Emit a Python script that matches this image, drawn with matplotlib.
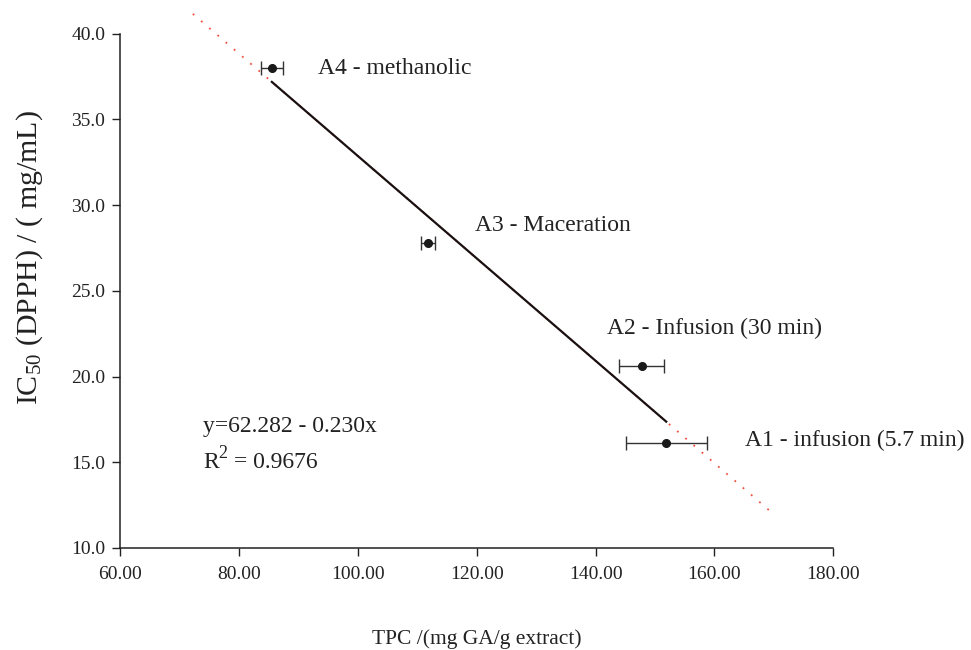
import numpy as np
import matplotlib.pyplot as plt

plt.rcParams['font.family'] = ['Liberation Serif', 'DejaVu Serif']
plt.rcParams['mathtext.fontset'] = 'custom'
plt.rcParams['mathtext.rm'] = 'Liberation Serif'
plt.rcParams['mathtext.it'] = 'Liberation Serif:italic'

# ---- data ----
labels = ['A1 - infusion (5.7 min)', 'A2 - Infusion (30 min)', 'A3 - Maceration', 'A4 - methanolic']
tpc = [151.9, 147.8, 111.8, 85.5]
tpc_err = [6.8, 3.8, 1.2, 1.8]
ic50 = [16.1, 20.6, 27.8, 38.0]

# label anchor points (data coords)
label_x = [165.2, 141.9, 119.7, 93.3]
label_y = [16.3, 22.8, 28.8, 38.0]

trend_span = [72.2, 169.4]   # dotted trendline extent
eq_text = 'y=62.282 - 0.230x'
r2_value = '0.9676'

# ---- linear fit ----
slope, intercept = np.polyfit(tpc, ic50, 1)

fig = plt.figure(figsize=(9.71, 6.5), dpi=100)
ax = fig.add_axes([0.124, 0.157, 0.734, 0.791])

# dotted extension (red) and solid fit across data range
xs = np.array(trend_span)
ax.plot(xs, intercept + slope * xs, ls=(0, (1, 5)), color='#f05040', lw=1.3, clip_on=False, zorder=2)
xd = np.array([min(tpc), max(tpc)])
ax.plot(xd, intercept + slope * xd, color='#1a1010', lw=1.6, zorder=3)

ax.errorbar(tpc, ic50, xerr=tpc_err, fmt='o', color='#1a1a1a', ecolor='#333333',
            ms=5.5, elinewidth=1.0, capsize=5, capthick=1.0, zorder=4)

for lab, lx, ly in zip(labels, label_x, label_y):
    ax.text(lx, ly, lab, fontsize=17, va='center', ha='left', color='#222222')

ax.text(73.9, 17.1, eq_text, fontsize=17, va='center', ha='left', color='#222222')
# R^2 line: larger superscript like the reference
ax.text(73.9, 15.0, 'R', fontsize=17, va='center', ha='left', color='#222222')
ax.annotate('2', (73.9, 15.0), xytext=(11, 6), textcoords='offset points',
            fontsize=13, va='center', ha='left', color='#222222')
ax.annotate('= ' + r2_value, (73.9, 15.0), xytext=(22.5, 0), textcoords='offset points',
            fontsize=17, va='center', ha='left', color='#222222')

ax.set_xlim(60, 180)
ax.set_ylim(10, 40)
ax.set_xticks(np.arange(60, 181, 20))
ax.set_yticks(np.arange(10, 41, 5))
ax.set_xticklabels([f'{v:.2f}' for v in np.arange(60, 181, 20)])
ax.set_yticklabels([f'{v:.1f}' for v in np.arange(10, 41, 5)])
ax.tick_params(axis='both', direction='out', length=6, width=1, labelsize=14,
               colors='#222222')
ax.tick_params(axis='x', pad=7)
ax.tick_params(axis='y', pad=5)

for s in ['top', 'right']:
    ax.spines[s].set_visible(False)
for s in ['left', 'bottom']:
    ax.spines[s].set_linewidth(1.1)
    ax.spines[s].set_color('#222222')

ax.set_xlabel('TPC /(mg GA/g extract)', fontsize=15.5, color='#222222')
ax.xaxis.set_label_coords(0.5, -0.158)
ax.set_ylabel('IC$_{50}$ (DPPH) / ( mg/mL)', fontsize=21.5, color='#222222')
ax.yaxis.set_label_coords(-0.106, 0.564)

fig.savefig('out.png', dpi=100)
